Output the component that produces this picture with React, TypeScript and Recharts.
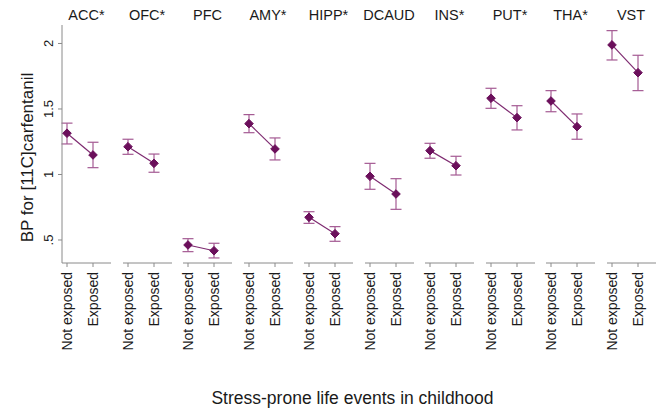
import React from 'react';
import { LineChart, Line, XAxis, YAxis, ErrorBar } from 'recharts';

// ---- data ----
const regions = ['ACC*', 'OFC*', 'PFC', 'AMY*', 'HIPP*', 'DCAUD', 'INS*', 'PUT*', 'THA*', 'VST'];
const groups = ['Not exposed', 'Exposed'];
const notExposedMean = [1.315, 1.212, 0.462, 1.388, 0.673, 0.986, 1.182, 1.582, 1.561, 1.989];
const notExposedLow = [1.233, 1.154, 0.411, 1.319, 0.627, 0.887, 1.124, 1.505, 1.479, 1.874];
const notExposedHigh = [1.392, 1.269, 0.51, 1.457, 0.716, 1.085, 1.238, 1.658, 1.64, 2.098];
const exposedMean = [1.149, 1.085, 0.418, 1.195, 0.548, 0.851, 1.067, 1.434, 1.365, 1.777];
const exposedLow = [1.052, 1.017, 0.363, 1.111, 0.49, 0.734, 0.996, 1.34, 1.269, 1.64];
const exposedHigh = [1.246, 1.156, 0.475, 1.279, 0.602, 0.968, 1.139, 1.525, 1.462, 1.91];
const yTicks = [0.5, 1, 1.5, 2];
const yTickLabels = ['.5', '1', '1.5', '2'];
const yDomain = [0.3244, 2.141];
const yAxisTitle = 'BP for [11C]carfentanil';
const xAxisTitle = 'Stress-prone life events in childhood';

// ---- layout / style ----
const FONT = '"Liberation Sans", Arial, sans-serif';
const FIRST_LEFT = 62;
const STEP = 60.5;
const PANEL_W = 49;
const PLOT_TOP = 25;
const PLOT_H = 238;
const CHART_H = 360;
const AXIS_COLOR = '#8a8a8a';
const MARK_COLOR = '#6b0f5b';
const LINE_COLOR = '#7e2a70';
const ERR_COLOR = '#a45a93';

function panelData(i: number) {
  const means = [notExposedMean[i], exposedMean[i]];
  const lows = [notExposedLow[i], exposedLow[i]];
  const highs = [notExposedHigh[i], exposedHigh[i]];
  return groups.map((g, k) => ({
    group: g,
    bp: means[k],
    err: [means[k] - lows[k], highs[k] - means[k]],
  }));
}

const XTick = (props: any) => {
  const { x, y, payload } = props;
  const ty = y + 3;
  return (
    <text
      x={x}
      y={ty}
      dy="0.35em"
      transform={`rotate(-90 ${x} ${ty})`}
      textAnchor="end"
      fontSize={14}
      fontFamily={FONT}
      fill="#1a1a1a"
    >
      {payload.value}
    </text>
  );
};

const YTick = (props: any) => {
  const { x, y, payload } = props;
  const tx = x - 2.5;
  const idx = yTicks.indexOf(payload.value);
  return (
    <text
      x={tx}
      y={y}
      transform={`rotate(-90 ${tx} ${y})`}
      textAnchor="middle"
      fontSize={13}
      fontFamily={FONT}
      fill="#1a1a1a"
    >
      {idx >= 0 ? yTickLabels[idx] : payload.value}
    </text>
  );
};

const Diamond = (props: any) => {
  const { cx, cy, index } = props;
  const r = 4.3;
  if (cx == null || cy == null) return <g key={`d-${index}`} />;
  return (
    <path
      key={`d-${index}`}
      d={`M${cx},${cy - r}L${cx + r},${cy}L${cx},${cy + r}L${cx - r},${cy}Z`}
      fill={MARK_COLOR}
      stroke={MARK_COLOR}
    />
  );
};

function Panel({ i }: { i: number }) {
  const first = i === 0;
  const plotLeft = FIRST_LEFT + i * STEP;
  const left = first ? 0 : plotLeft - 10;
  const width = first ? FIRST_LEFT + PANEL_W + 10 : PANEL_W + 20;
  return (
    <div style={{ position: 'absolute', left, top: 0, width, height: CHART_H }}>
      <LineChart
        width={width}
        height={CHART_H}
        data={panelData(i)}
        margin={{ top: PLOT_TOP, bottom: 0, left: first ? 0 : 10, right: 10 }}
      >
        <XAxis
          dataKey="group"
          type="category"
          scale="point"
          padding={{ left: 5, right: 18 }}
          height={CHART_H - PLOT_TOP - PLOT_H}
          axisLine={{ stroke: AXIS_COLOR, strokeWidth: 1 }}
          tickLine={{ stroke: AXIS_COLOR }}
          tickSize={4}
          tick={<XTick />}
          interval={0}
        />
        <YAxis
          type="number"
          domain={yDomain}
          allowDataOverflow
          ticks={yTicks}
          hide={!first}
          width={FIRST_LEFT}
          axisLine={{ stroke: AXIS_COLOR, strokeWidth: 1 }}
          tickLine={{ stroke: AXIS_COLOR }}
          tickSize={4}
          tick={<YTick />}
        />
        <Line
          dataKey="bp"
          stroke={LINE_COLOR}
          strokeWidth={1.2}
          dot={Diamond}
          activeDot={false}
          isAnimationActive={false}
        >
          <ErrorBar dataKey="err" direction="y" width={5.5} stroke={ERR_COLOR} strokeWidth={1.2} />
        </Line>
      </LineChart>
    </div>
  );
}

export default function App() {
  return (
    <div
      style={{
        position: 'absolute',
        left: 0,
        top: 0,
        width: 662,
        height: 412,
        background: '#fff',
        overflow: 'hidden',
      }}
    >
      {regions.map((_, i) => (
        <Panel key={i} i={i} />
      ))}
      <svg
        width={662}
        height={412}
        style={{ position: 'absolute', left: 0, top: 0, pointerEvents: 'none' }}
      >
        {regions.map((r, i) => (
          <text
            key={r}
            x={FIRST_LEFT + i * STEP + PANEL_W / 2}
            y={20}
            textAnchor="middle"
            fontSize={14.5}
            fontFamily={FONT}
            fill="#1a1a1a"
          >
            {r}
          </text>
        ))}
        <text
          x={33}
          y={157.5}
          transform="rotate(-90 33 157.5)"
          textAnchor="middle"
          fontSize={17}
          fontFamily={FONT}
          fill="#1a1a1a"
        >
          {yAxisTitle}
        </text>
        <text x={352.5} y={404} textAnchor="middle" fontSize={17.5} fontFamily={FONT} fill="#1a1a1a">
          {xAxisTitle}
        </text>
      </svg>
    </div>
  );
}
